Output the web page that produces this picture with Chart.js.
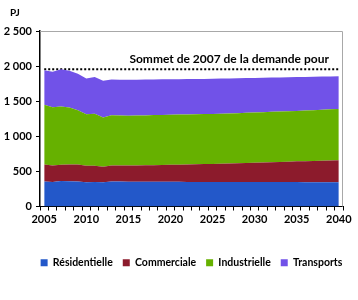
<!DOCTYPE html>
<html>
<head>
<meta charset="utf-8">
<script src="https://cdn.jsdelivr.net/npm/chart.js@4"></script>
<style>
  html, body { margin: 0; padding: 0; background: #fff; }
  #wrap { width: 358px; height: 300px; }
</style>
</head>
<body>
<div id="wrap"><canvas id="myChart"></canvas></div>
<script>
// Setup Block
const years = [];
for (let y = 2005; y <= 2040; y++) years.push(String(y));

const residentielle = [355, 350, 365, 360, 355, 345, 350, 345, 355, 355, 352, 352, 352, 351, 351, 351, 351, 350,
  350, 350, 350, 350, 350, 349, 349, 349, 349, 348, 348, 348, 348, 347, 347, 347, 346, 346];
const commerciale = [245, 235, 230, 238, 245, 235, 230, 220, 230, 230, 233, 233, 235, 238, 240, 242, 244, 248,
  251, 254, 257, 260, 264, 268, 271, 274, 278, 283, 287, 291, 295, 299, 302, 305, 309, 312];
const industrielle = [850, 830, 830, 812, 770, 735, 740, 703, 715, 710, 707, 710, 711, 713, 714, 715, 715, 714,
  713, 712, 711, 712, 712, 713, 715, 717, 717, 717, 717, 717, 717, 720, 723, 726, 729, 732];
const transports = [490, 503, 530, 525, 520, 510, 525, 522, 508, 510, 513, 511, 510, 507, 506, 504, 504, 503,
  503, 502, 502, 500, 499, 497, 495, 492, 490, 489, 487, 486, 484, 480, 476, 473, 469, 465];

const peak2007 = 1955;
const peakLabel = "Sommet de 2007 de la demande pour";
const yTicks = [0, 500, 1000, 1500, 2000, 2500];

const FONT = "Lato";

function area(label, values, color, fill) {
  return {
    label,
    data: values,
    backgroundColor: color,
    borderColor: color,
    borderWidth: 0,
    pointRadius: 0,
    fill,
    tension: 0,
    stack: "energy",
  };
}

const data = {
  labels: years,
  datasets: [
    area("Résidentielle", residentielle, "#2358c9", "origin"),
    area("Commerciale", commerciale, "#8c1b2c", "-1"),
    area("Industrielle", industrielle, "#66b100", "-1"),
    area("Transports", transports, "#7152e8", "-1"),
    {
      label: "peak",
      data: years.map(() => peak2007),
      borderColor: "#000",
      borderWidth: 2,
      borderDash: [2, 2],
      pointRadius: 0,
      fill: false,
      stack: "peak",
    },
  ],
};

// Plugins: frame, unit, annotation, legend centred on the plot
const extras = {
  id: "extras",
  afterLayout(chart) {
    const a = chart.chartArea;
    const l = chart.legend;
    const shift = (a.left + a.right) / 2 - (l.left + l.right) / 2;
    l.left += shift;
    l.right += shift;
  },
  beforeDatasetsDraw(chart) {
    const { ctx, chartArea: a } = chart;
    ctx.save();
    ctx.strokeStyle = "#a8a8a8";
    ctx.lineWidth = 1;
    ctx.beginPath();
    ctx.moveTo(a.left, a.top + 0.5);
    ctx.lineTo(a.right - 0.5, a.top + 0.5);
    ctx.lineTo(a.right - 0.5, a.bottom);
    ctx.stroke();
    ctx.restore();
  },
  afterDraw(chart) {
    const { ctx, chartArea: a } = chart;
    const x = chart.scales.x;
    const y = chart.scales.y;
    ctx.save();
    ctx.fillStyle = "#000";
    ctx.font = "bold 10px " + FONT;
    ctx.textBaseline = "middle";
    ctx.textAlign = "left";
    ctx.fillText("PJ", 10, a.top - 18);
    ctx.font = "bold 12px " + FONT;
    ctx.textBaseline = "alphabetic";
    ctx.fillText(peakLabel, x.getPixelForValue(10) + 1, y.getPixelForValue(peak2007) - 6);
    ctx.restore();
  },
};

// Options Block
const options = {
  responsive: true,
  maintainAspectRatio: false,
  animation: false,
  layout: { padding: { top: 31, right: 15, left: 0, bottom: 22 } },
  plugins: {
    legend: {
      position: "bottom",
      labels: {
        filter: (item) => item.text !== "peak",
        boxWidth: 7,
        boxHeight: 7,
        padding: 10,
        color: "#000",
        font: { family: FONT, size: 10.5, weight: "bold" },
      },
    },
    tooltip: { enabled: false },
  },
  scales: {
    x: {
      offset: true,
      grid: { offset: true, drawOnChartArea: false, color: "#000", tickLength: 4 },
      border: { color: "#000", width: 1 },
      ticks: {
        autoSkip: false,
        maxRotation: 0,
        color: "#000",
        padding: 2,
        font: { family: FONT, size: 11, weight: "bold" },
        callback: function (v) {
          const lab = this.getLabelForValue(v);
          return Number(lab) % 5 === 0 ? lab : "";
        },
      },
      afterFit: (s) => { s.height = 41; },
    },
    y: {
      stacked: true,
      min: 0,
      max: 2500,
      afterBuildTicks: (s) => { s.ticks = yTicks.map((v) => ({ value: v })); },
      grid: { drawOnChartArea: false, color: "#000", tickLength: 4 },
      border: { color: "#000", width: 1.5 },
      ticks: {
        color: "#000",
        padding: 4,
        font: { family: FONT, size: 11, weight: "bold" },
        callback: (v) => String(v).replace(/\B(?=(\d{3})+(?!\d))/g, " "),
      },
      afterFit: (s) => { s.width = 40; },
    },
  },
};

// Config Block
const config = {
  type: "line",
  data,
  options,
  plugins: [extras],
};

// Render Block
const myChart = new Chart(document.getElementById("myChart"), config);
</script>
</body>
</html>
